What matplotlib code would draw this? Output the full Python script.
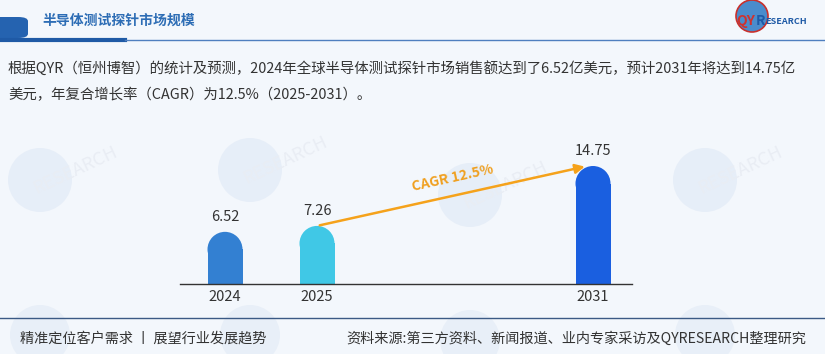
import matplotlib
matplotlib.use("Agg")
import matplotlib.pyplot as plt
from matplotlib.patches import Ellipse, FancyBboxPatch
from matplotlib.lines import Line2D

plt.rcParams['font.family'] = ['Noto Sans CJK SC', 'DejaVu Sans']

# ---- data ----
years = ["2024", "2025", "2031"]
positions = [0, 1, 4]
values = [6.52, 7.26, 14.75]
bar_colors = ["#3380d2", "#40c8e6", "#1a5fe0"]
cagr_label = "CAGR 12.5%"
title = "半导体测试探针市场规模"
para_line1 = "根据QYR（恒州博智）的统计及预测，2024年全球半导体测试探针市场销售额达到了6.52亿美元，预计2031年将达到14.75亿"
para_line2 = "美元，年复合增长率（CAGR）为12.5%（2025-2031）。"
footer_left = "精准定位客户需求 丨 展望行业发展趋势"
footer_right = "资料来源:第三方资料、新闻报道、业内专家采访及QYRESEARCH整理研究"

W, H = 825, 354
fig = plt.figure(figsize=(W / 100, H / 100), dpi=100)
fig.patch.set_facecolor("#f3f7fc")

def P(x, y):
    return (x / W, 1 - y / H)

def circ(cx, cy, r, **kw):
    return Ellipse(P(cx, cy), 2 * r / W, 2 * r / H, transform=fig.transFigure, **kw)

# faint watermarks
for (cx, cy) in [(40, 180), (250, 170), (470, 195), (705, 180)]:
    fig.patches.append(circ(cx, cy, 32, facecolor="#e6eef8", edgecolor="none", zorder=-2))
    fig.text(*P(cx + 35, cy - 10), "RESEARCH", color="#e9edf4", fontsize=13, rotation=25,
             ha="center", va="center", zorder=-1)
for (cx, cy) in [(40, 335), (250, 335), (470, 340), (705, 335)]:
    fig.patches.append(circ(cx, cy, 30, facecolor="#e8eff8", edgecolor="none", zorder=-2))

# header
fig.patches.append(FancyBboxPatch(P(-10, 38), 38 / W, 21 / H, boxstyle="round,pad=0,rounding_size=0.012",
                                  transform=fig.transFigure, facecolor="#2563b0", edgecolor="none"))
fig.lines.append(Line2D([0, 125 / W], [1 - 40 / H] * 2, transform=fig.transFigure, color="#1f5aa6", lw=3))
fig.lines.append(Line2D([125 / W, 1], [1 - 40 / H] * 2, transform=fig.transFigure, color="#4f7fbf", lw=1))
fig.text(*P(42, 21), title, color="#2d6db5", fontsize=10, fontweight="bold", ha="left", va="center")

# logo
fig.patches.append(circ(752, 16, 16, facecolor="#4a8ccc", edgecolor="#c9302c", lw=1.2, zorder=3))
fig.text(*P(736, 21), "QY", color="#d0312d", fontsize=10, fontweight="bold", ha="left", va="center", zorder=4)
fig.text(*P(756, 21), "R", color="#1f5aa6", fontsize=10, fontweight="bold", ha="left", va="center", zorder=4)
fig.text(*P(765, 22), "ESEARCH", color="#1f5aa6", fontsize=6.5, fontweight="bold", ha="left", va="center", zorder=4)

# paragraph
fig.text(*P(8, 68), para_line1, color="#333333", fontsize=10.4, ha="left", va="center")
fig.text(*P(8, 95), para_line2, color="#333333", fontsize=10.4, ha="left", va="center")

# footer
fig.lines.append(Line2D([0, 1], [1 - 318 / H] * 2, transform=fig.transFigure, color="#3b5a85", lw=1))
fig.text(*P(20, 339), footer_left, color="#333333", fontsize=10.2, ha="left", va="center")
fig.text(*P(806, 339), footer_right, color="#333333", fontsize=10.2, ha="right", va="center")

# chart axes: pixel box x 180..632, y 140..284
ax_l, ax_r, ax_t, ax_b = 180, 632, 140, 284
ax = fig.add_axes([ax_l / W, 1 - ax_b / H, (ax_r - ax_l) / W, (ax_b - ax_t) / H])
ax.set_zorder(2)
ax.set_facecolor("none")
px_per_x = 92.0
px_per_y = 8.0
x0_px = 225
ax.set_xlim(-(x0_px - ax_l) / px_per_x, (ax_r - x0_px) / px_per_x)
ax.set_ylim(0, (ax_b - ax_t) / px_per_y)
for s in ["top", "right", "left"]:
    ax.spines[s].set_visible(False)
ax.spines["bottom"].set_color("#333333")
ax.spines["bottom"].set_linewidth(1)
ax.set_yticks([])
ax.set_xticks(positions)
ax.set_xticklabels(years, fontsize=10.5, color="#333333")
ax.tick_params(axis="x", length=0, pad=4)

bw_px = 35
bw = bw_px / px_per_x
r_y = (bw_px / 2) / px_per_y
for x, v, c in zip(positions, values, bar_colors):
    ax.bar(x, v - r_y, width=bw, color=c, edgecolor="none", zorder=2)
    ax.add_patch(Ellipse((x, v - r_y), bw, 2 * r_y, facecolor=c, edgecolor="none", zorder=2))
    ax.text(x, v + 1.0, f"{v:.2f}", ha="center", va="bottom", fontsize=10.5, color="#333333",
            clip_on=False)

ax.annotate("", xy=(positions[2] - 0.06, values[2]), xytext=(positions[1], values[1]),
            arrowprops=dict(arrowstyle="-|>", color="#f5a21b", lw=1.8, mutation_scale=14), zorder=3)
ax.text(2.48, 13.2, cagr_label, color="#f0a020", fontsize=10, fontweight="bold",
        rotation=12.5, ha="center", va="center", rotation_mode="anchor", zorder=4)

fig.savefig("out.png", dpi=100, facecolor=fig.get_facecolor())
